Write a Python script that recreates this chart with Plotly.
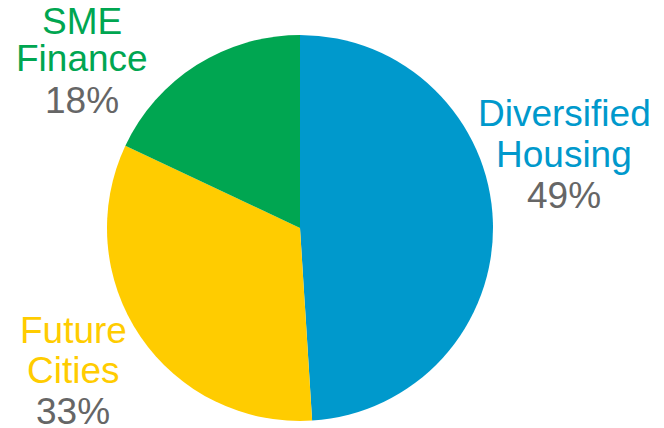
import plotly.graph_objects as go

labels = ["Diversified Housing", "Future Cities", "SME Finance"]
values = [49, 33, 18]
colors = ["#0099CC", "#FFCC00", "#00A651"]
label_lines = [["Diversified", "Housing"], ["Future", "Cities"], ["SME", "Finance"]]
label_x = [564, 73, 82]            # pixel x centers of label blocks
label_y = [[114, 154, 195], [330, 370, 411], [21, 59, 100]]  # pixel y of each line

W, H = 664, 428
fig = go.Figure(go.Pie(
    labels=labels, values=values, sort=False, direction="clockwise", rotation=0,
    marker=dict(colors=colors, line=dict(width=0)),
    textinfo="none", hoverinfo="label+percent", showlegend=False,
    domain=dict(x=[(300 - 193) / W, (300 + 193) / W], y=[1 - 421 / H, 1 - 35 / H]),
))

total = sum(values)
FONT = "Liberation Sans"
for lab, lines, v, c, px, ys in zip(labels, label_lines, values, colors, label_x, label_y):
    texts = lines + [f"{round(100 * v / total)}%"]
    cols = [c] * len(lines) + ["#666666"]
    for t, col, py in zip(texts, cols, ys):
        fig.add_annotation(x=px / W, y=1 - py / H, xref="paper", yref="paper",
                           text=t, showarrow=False, xanchor="center", yanchor="middle",
                           font=dict(family=FONT, size=37, color=col))

fig.update_layout(width=W, height=H, margin=dict(l=0, r=0, t=0, b=0),
                  paper_bgcolor="white", plot_bgcolor="white")
fig.write_html("out.html")
